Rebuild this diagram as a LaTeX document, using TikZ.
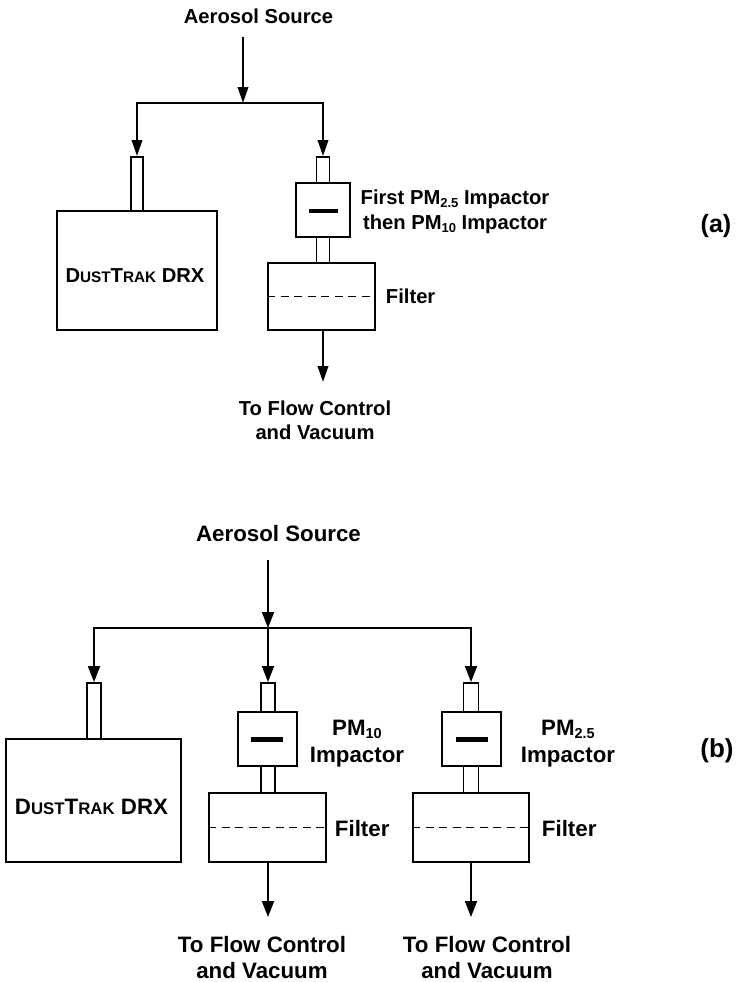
\documentclass[tikz,border=0pt]{standalone}
\usepackage{fontspec}
\setmainfont{Liberation Sans}
\usetikzlibrary{arrows.meta}
\newcommand{\fa}{\fontsize{20.2}{24}\selectfont}
\newcommand{\fb}{\fontsize{22.3}{26}\selectfont}
\newcommand{\subA}[1]{\raisebox{-0.18em}{\fontsize{13}{13}\selectfont #1}}
\newcommand{\subB}[1]{\raisebox{-0.15em}{\fontsize{14.5}{14.5}\selectfont #1}}
\newcommand{\scA}[1]{{\fontsize{15.3}{15.3}\selectfont #1}}
\newcommand{\scB}[1]{{\fontsize{16.8}{16.8}\selectfont #1}}
\begin{document}
\begin{tikzpicture}[x=1pt,y=-1pt,line width=1.9pt,
  box/.style={draw,rectangle,inner sep=0pt,line width=1.9pt},
  barbox/.style={fill=black,draw=none,rectangle,inner sep=0pt,minimum height=4.5pt},
  arrA/.style={-{Triangle[length=16pt,width=10.5pt]}},
  arrB/.style={-{Triangle[length=16pt,width=12pt]}},
  lbl/.style={font=\bfseries,inner sep=0pt,anchor=base},
  lblw/.style={font=\bfseries,inner sep=0pt,anchor=base west},
  filt/.style={dash pattern=on 8pt off 5.5pt,line width=1.6pt}]
\fill[white] (0,0) rectangle (738,982);
\useasboundingbox (0,0) rectangle (738,982);

% ---------------- (a) ----------------
\node[lbl] (srcA) at (258.5,23.2) {\fa Aerosol Source};
\coordinate (sA) at (243,37);
\coordinate (jA) at (243,103);
\node[box,minimum width=12pt,minimum height=54pt] (dAt) at (137,184) {};
\node[box,minimum width=160pt,minimum height=119pt] (dA) at (137,270.5) {};
\node[lbl] (dAl) at (135,282) {\fa D\scA{UST}T\scA{RAK} DRX};
\node[box,minimum width=13pt,minimum height=26pt] (iAt) at (323,170) {};
\node[box,minimum width=54pt,minimum height=54pt] (iA) at (323,210) {};
\node[barbox,minimum width=29pt] (bA) at (323,211) {};
\node[box,minimum width=13pt,minimum height=26pt] (iAm) at (323,250) {};
\node[box,minimum width=107pt,minimum height=67pt] (fA) at (321.5,296.5) {};
\draw[filt] (fA.west) -- (fA.east);
\node[lblw] (fAl) at (385,303.2) {\fa Filter};
\node[lbl] (iAl1) at (455,204.2) {\fa First PM\subA{2.5} Impactor};
\node[lbl] (iAl2) at (455,229.2) {\fa then PM\subA{10} Impactor};
\coordinate (oA) at (323,382);
\node[lbl] (oAl1) at (315,415.2) {\fa To Flow Control};
\node[lbl] (oAl2) at (315,439.2) {\fa and Vacuum};
\node[lbl] (tagA) at (716,232) {\fontsize{25}{25}\selectfont\bfseries (a)};

\draw[arrA] (sA) -- (jA);
\draw[arrA] (jA) -| (dAt.north);
\draw[arrA] (jA) -| (iAt.north);
\draw[arrA] (fA.south -| iA.center) -- (oA);

% ---------------- (b) ----------------
\node[lbl] (srcB) at (278.5,541) {\fb Aerosol Source};
\coordinate (sB) at (268,560);
\coordinate (jB) at (268,628);
\node[box,minimum width=14pt,minimum height=56pt] (dBt) at (94,711) {};
\node[box,minimum width=175pt,minimum height=123pt] (dB) at (93.5,800.5) {};
\node[lbl] (dBl) at (91.5,814) {\fb D\scB{UST}T\scB{RAK} DRX};

\node[box,minimum width=14pt,minimum height=29pt] (i1t) at (268,697.5) {};
\node[box,minimum width=59pt,minimum height=54pt] (i1) at (267.5,739) {};
\node[barbox,minimum width=32pt,minimum height=5pt] (b1) at (267,739) {};
\node[box,minimum width=14pt,minimum height=27pt] (i1m) at (268,779.5) {};
\node[box,minimum width=117pt,minimum height=69pt] (f1) at (267.5,827.5) {};
\draw[filt] (f1.west) -- (f1.east);
\node[lblw] (f1l) at (334,836) {\fb Filter};
\node[lbl] (i1l1) at (357,735.5) {\fb PM\subB{10}};
\node[lbl] (i1l2) at (357,762) {\fb Impactor};
\coordinate (o1) at (268,917);
\node[lbl] (o1l1) at (262,952) {\fb To Flow Control};
\node[lbl] (o1l2) at (262,978) {\fb and Vacuum};

\node[box,minimum width=15pt,minimum height=29pt] (i2t) at (471,697.5) {};
\node[box,minimum width=59pt,minimum height=54pt] (i2) at (471.5,739) {};
\node[barbox,minimum width=32pt,minimum height=5pt] (b2) at (471.5,739) {};
\node[box,minimum width=15pt,minimum height=27pt] (i2m) at (471,779.5) {};
\node[box,minimum width=116pt,minimum height=69pt] (f2) at (471,827.5) {};
\draw[filt] (f2.west) -- (f2.east);
\node[lblw] (f2l) at (541,836) {\fb Filter};
\node[lbl] (i2l1) at (568,735.5) {\fb PM\subB{2.5}};
\node[lbl] (i2l2) at (568,762) {\fb Impactor};
\coordinate (o2) at (471,917);
\node[lbl] (o2l1) at (487,952) {\fb To Flow Control};
\node[lbl] (o2l2) at (487,978) {\fb and Vacuum};
\node[lbl] (tagB) at (717,757.5) {\fontsize{26}{26}\selectfont\bfseries (b)};

\draw[arrB] (sB) -- (jB);
\draw[arrB] (jB) -| (dBt.north);
\draw[arrB] (jB) -- (i1t.north);
\draw[arrB] (jB) -| (i2t.north);
\draw[arrB] (f1.south -| i1t.center) -- (o1);
\draw[arrB] (f2.south -| i2t.center) -- (o2);
\end{tikzpicture}
\end{document}
